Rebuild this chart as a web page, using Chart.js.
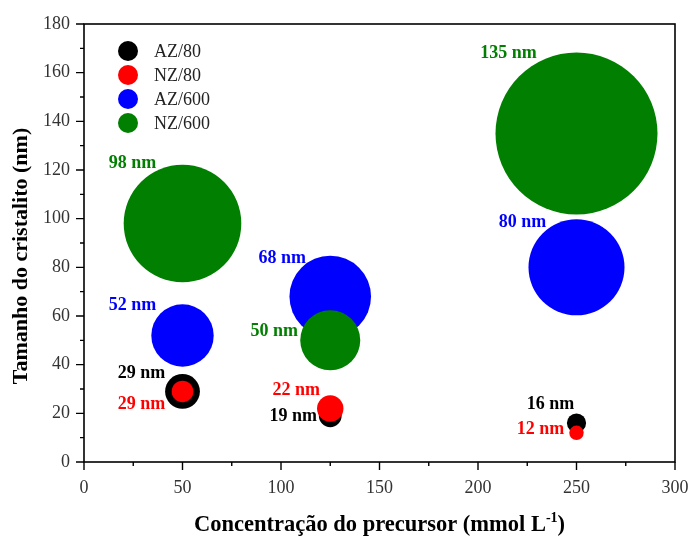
<!DOCTYPE html>
<html>
<head>
<meta charset="utf-8">
<script src="https://cdn.jsdelivr.net/npm/chart.js@4.4.1/dist/chart.umd.min.js"></script>
<style>
  html, body { margin: 0; padding: 0; background: #fff; }
  #wrap { width: 689px; height: 536px; }
</style>
</head>
<body>
<div id="wrap"><canvas id="chart" width="689" height="536"></canvas></div>
<script>
// Precursor concentrations (mmol L-1)
const concentrations = [50, 125, 250];

// Crystallite size (nm) for each sample series
const az80Size = [29, 19, 16];
const nz80Size = [29, 22, 12];
const az600Size = [52, 68, 80];
const nz600Size = [98, 50, 135];

// Bubble size of each marker
const az80Bubble = [29, 19, 16];
const nz80Bubble = [18, 22, 12];
const az600Bubble = [52, 68, 80];
const nz600Bubble = [98, 50, 135];

const seriesNames = ['AZ/80', 'NZ/80', 'AZ/600', 'NZ/600'];
const seriesColors = ['#000000', '#ff0000', '#0000ff', '#007f00'];

const xTicks = [0, 50, 100, 150, 200, 250, 300];
const yTicks = [0, 20, 40, 60, 80, 100, 120, 140, 160, 180];

const BUBBLE_SCALE = 0.6;
const SERIF = '"Liberation Serif", "Times New Roman", serif';

function points(sizes, bubbles) {
  return concentrations.map((c, i) => ({ x: c, y: sizes[i], r: bubbles[i] * BUBBLE_SCALE }));
}

const sizesBySeries = [az80Size, nz80Size, az600Size, nz600Size];
const bubblesBySeries = [az80Bubble, nz80Bubble, az600Bubble, nz600Bubble];
const drawOrder = [1, 0, 3, 2];

// Value labels: pixel offset of the text centre from the bubble centre
const labelOffsets = [
  [[-41, -18], [-37, 1], [-26, -19]],
  [[-41, 13], [-34, -18], [-36, -3]],
  [[-50, -30], [-48, -38], [-54, -45]],
  [[-50, -60], [-56, -9], [-68, -80]]
];

const datasets = seriesNames.map((name, s) => ({
  label: name,
  data: points(sizesBySeries[s], bubblesBySeries[s]),
  backgroundColor: seriesColors[s],
  borderColor: seriesColors[s],
  borderWidth: 0,
  hoverBorderWidth: 0,
  order: drawOrder[s]
}));

const decorations = {
  id: 'decorations',
  afterDraw(chart) {
    const ctx = chart.ctx;
    const a = chart.chartArea;
    const xs = chart.scales.x, ys = chart.scales.y;
    ctx.save();

    // frame
    ctx.strokeStyle = '#000';
    ctx.lineWidth = 1.6;
    ctx.strokeRect(a.left, a.top, a.right - a.left, a.bottom - a.top);

    // major and minor tick marks, pointing outward
    ctx.lineWidth = 1.4;
    ctx.beginPath();
    for (let v = 0; v <= 300; v += 25) {
      const px = xs.getPixelForValue(v);
      const len = v % 50 === 0 ? 8 : 4;
      ctx.moveTo(px, a.bottom);
      ctx.lineTo(px, a.bottom + len);
    }
    for (let v = 0; v <= 180; v += 10) {
      const py = ys.getPixelForValue(v);
      const len = v % 20 === 0 ? 8 : 4;
      ctx.moveTo(a.left, py);
      ctx.lineTo(a.left - len, py);
    }
    ctx.stroke();

    // value labels
    ctx.font = 'bold 18px ' + SERIF;
    ctx.textAlign = 'center';
    ctx.textBaseline = 'middle';
    chart.data.datasets.forEach((ds, s) => {
      const meta = chart.getDatasetMeta(s);
      meta.data.forEach((el, i) => {
        const off = labelOffsets[s][i];
        ctx.fillStyle = seriesColors[s];
        ctx.fillText(sizesBySeries[s][i] + ' nm', el.x + off[0], el.y + off[1]);
      });
    });

    // legend
    ctx.font = '18px ' + SERIF;
    ctx.textAlign = 'left';
    seriesNames.forEach((name, s) => {
      const cy = 51 + s * 24;
      ctx.fillStyle = seriesColors[s];
      ctx.beginPath();
      ctx.arc(128, cy, 10, 0, Math.PI * 2);
      ctx.fill();
      ctx.fillStyle = '#222';
      ctx.fillText(name, 154, cy + 1);
    });

    // axis titles
    ctx.fillStyle = '#000';
    ctx.font = 'bold 22px ' + SERIF;
    ctx.save();
    ctx.translate(21, 256);
    ctx.rotate(-Math.PI / 2);
    ctx.textAlign = 'center';
    ctx.fillText('Tamanho do cristalito (nm)', 0, 0);
    ctx.restore();

    const titleFont = 'bold 22.5px ' + SERIF;
    const supFont = 'bold 14px ' + SERIF;
    const main = 'Concentração do precursor (mmol L';
    const sup = '-1';
    const close = ')';
    ctx.font = titleFont;
    const mainW = ctx.measureText(main).width;
    const closeW = ctx.measureText(close).width;
    ctx.font = supFont;
    const supW = ctx.measureText(sup).width;
    const total = mainW + supW + closeW;
    const cx = (a.left + a.right) / 2;
    const x0 = cx - total / 2;
    const baseY = 531;
    ctx.textAlign = 'left';
    ctx.textBaseline = 'alphabetic';
    ctx.font = titleFont;
    ctx.fillText(main, x0, baseY);
    ctx.font = supFont;
    ctx.fillText(sup, x0 + mainW, baseY - 9);
    ctx.font = titleFont;
    ctx.fillText(close, x0 + mainW + supW, baseY);

    ctx.restore();
  }
};

new Chart(document.getElementById('chart'), {
  type: 'bubble',
  data: { datasets },
  options: {
    responsive: false,
    animation: false,
    layout: { autoPadding: false, padding: { top: 24, right: 14, left: 0, bottom: 0 } },
    plugins: { legend: { display: false }, tooltip: { enabled: false } },
    scales: {
      x: {
        type: 'linear',
        min: 0, max: 300,
        afterBuildTicks(scale) { scale.ticks = xTicks.map(v => ({ value: v })); },
        afterFit(scale) {
          scale.height = 74;
          scale.paddingLeft = 0;
          scale.paddingRight = 0;
        },
        grid: { display: false, drawTicks: false },
        border: { display: false },
        ticks: { padding: 15, color: '#333', font: { family: SERIF, size: 18 } }
      },
      y: {
        type: 'linear',
        min: 0, max: 180,
        afterBuildTicks(scale) { scale.ticks = yTicks.map(v => ({ value: v })); },
        afterFit(scale) {
          scale.width = 84;
          scale.paddingTop = 0;
          scale.paddingBottom = 0;
        },
        grid: { display: false, drawTicks: false },
        border: { display: false },
        ticks: { padding: 14, color: '#333', font: { family: SERIF, size: 18 } }
      }
    }
  },
  plugins: [decorations]
});
</script>
</body>
</html>
